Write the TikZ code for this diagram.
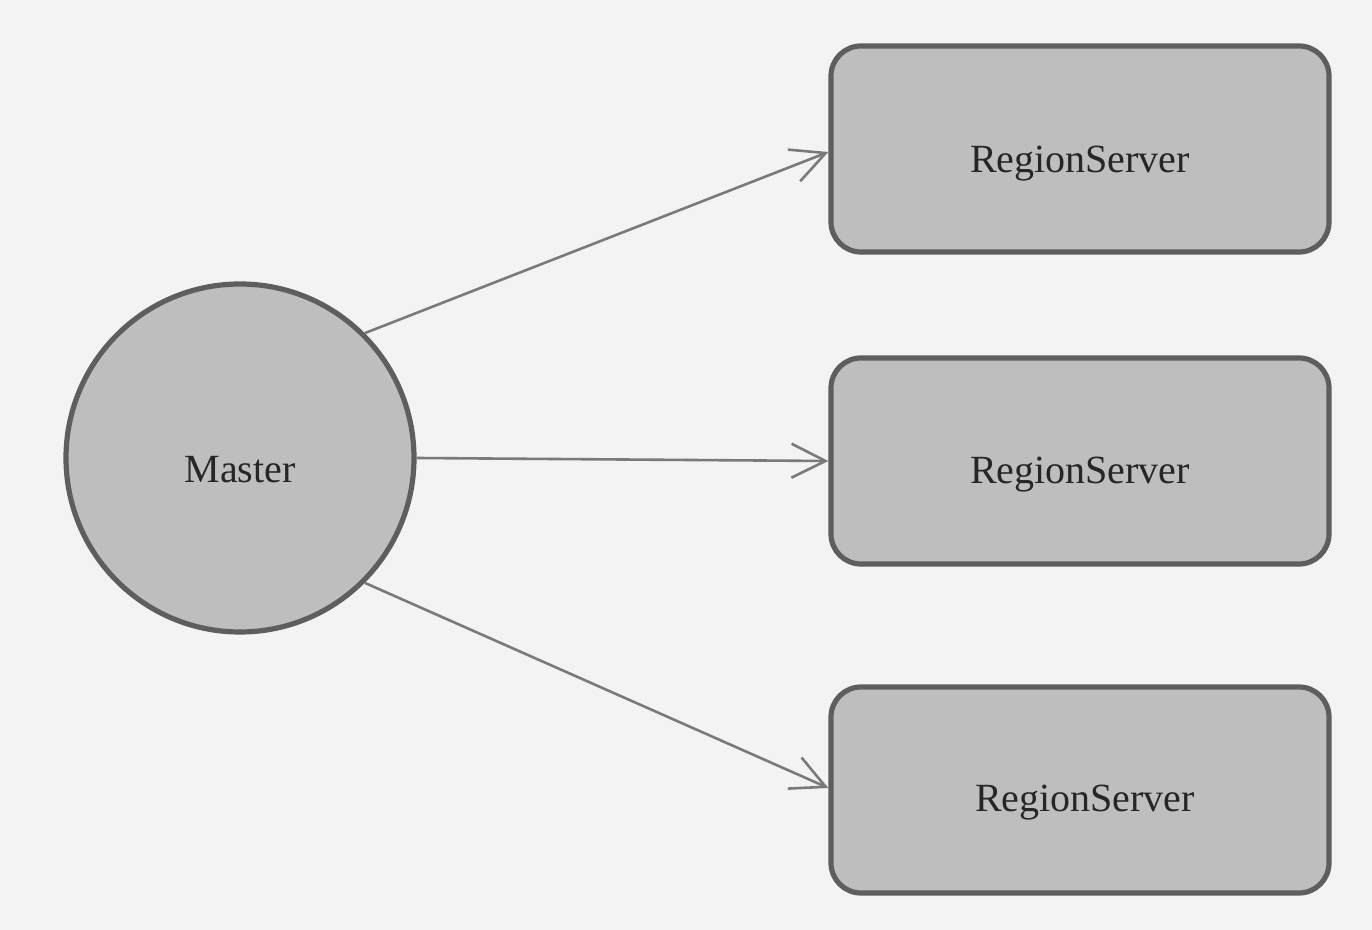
\documentclass[tikz,border=0pt]{standalone}
\usepackage{fontspec}
\setmainfont{Liberation Serif}
\usetikzlibrary{arrows.meta}
\definecolor{bgc}{HTML}{F3F3F3}
\definecolor{fillc}{HTML}{BEBEBE}
\definecolor{edgec}{HTML}{5E5E5E}
\definecolor{linec}{HTML}{7A7A7A}
\begin{document}
\begin{tikzpicture}[x=0.5pt,y=-0.5pt,
  master/.style={circle, draw=edgec, fill=fillc, line width=2.6pt, minimum size=174pt, inner sep=0pt},
  rsbox/.style={rectangle, rounded corners=15pt, draw=edgec, fill=fillc, line width=2.6pt, minimum width=249pt, minimum height=103pt, inner sep=0pt},
  lbl/.style={font=\fontsize{20}{24}\selectfont, text=black!85},
  conn/.style={draw=linec, line width=1.3pt, -{Straight Barb[length=17pt,width=17pt,line width=1.3pt]}}
]
\useasboundingbox[fill=bgc] (0,0) rectangle (1372,930);
\node[master] (M) at (240,458) {};
\node[lbl] (TM) at (240,470) {Master};
\node[rsbox] (R1) at (1080,149) {};
\node[rsbox] (R2) at (1080,461) {};
\node[rsbox] (R3) at (1080,790) {};
\node[lbl] (T1) at (1080,164) {RegionServer};
\node[lbl] (T2) at (1080,475) {RegionServer};
\node[lbl] (T3) at (1085,803) {RegionServer};
\draw[conn] (M.45) -- ([yshift=-1.5pt]R1.west);
\draw[conn] (M.east) -- (R2.west);
\draw[conn] (M.-45) -- ([yshift=1pt]R3.west);
\end{tikzpicture}
\end{document}
